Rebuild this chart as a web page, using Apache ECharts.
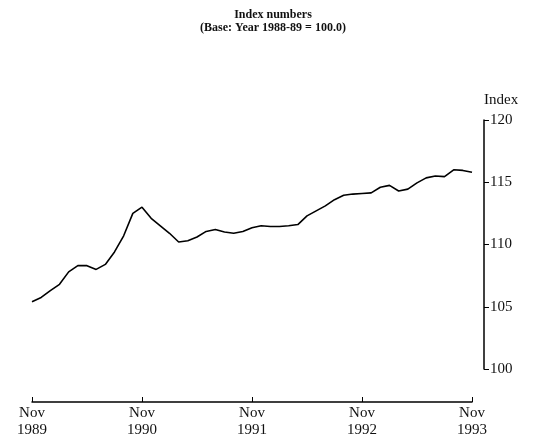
<!DOCTYPE html>
<html>
<head>
<meta charset="utf-8">
<script src="https://cdn.jsdelivr.net/npm/echarts@6/dist/echarts.min.js"></script>
<style>html,body{margin:0;padding:0;background:#fff}#c{width:535px;height:445px}</style>
</head>
<body>
<div id="c"></div>
<script>
// Monthly index, Nov 1989 .. Nov 1993
var months = ["Nov","Dec","Jan","Feb","Mar","Apr","May","Jun","Jul","Aug","Sep","Oct"];
var startYear = 1989;
var indexValues = [
  105.4, 105.75, 106.3, 106.8, 107.8, 108.3, 108.3, 108.0, 108.4, 109.4, 110.7, 112.5,
  113.0, 112.1, 111.5, 110.9, 110.2, 110.3, 110.6, 111.05, 111.2, 111.0, 110.9, 111.05,
  111.35, 111.5, 111.45, 111.45, 111.5, 111.6, 112.3, 112.7, 113.1, 113.6, 113.95, 114.05,
  114.1, 114.15, 114.6, 114.75, 114.3, 114.45, 114.95, 115.35, 115.5, 115.45, 116.0, 115.95,
  115.8
];
var yTicks = [100, 105, 110, 115, 120];

var categories = [];
for (var i = 0; i < indexValues.length; i++) {
  var mi = i % 12;
  var yr = startYear + Math.floor((i + 10) / 12);
  categories.push(months[mi] + "\n" + yr);
}

var serif = "Liberation Serif";
var chart = echarts.init(document.getElementById('c'), null, {renderer: 'canvas'});
chart.setOption({
  animation: false,
  backgroundColor: '#fff',
  title: {
    text: 'Index numbers',
    subtext: '(Base: Year 1988-89 = 100.0)',
    left: 268, textAlign: 'center',
    top: 4,
    itemGap: 1,
    textStyle: {fontFamily: serif, fontWeight: 'bold', fontSize: 12, color: '#111'},
    subtextStyle: {fontFamily: serif, fontWeight: 'bold', fontSize: 12, color: '#111'}
  },
  grid: {left: 32, right: 63, top: 120, bottom: 76, containLabel: false},
  xAxis: {
    type: 'category',
    data: categories,
    boundaryGap: false,
    offset: 33,
    axisLine: {lineStyle: {color: '#000', width: 1.5}},
    axisTick: {inside: true, length: 5, interval: 11, lineStyle: {color: '#000'}},
    axisLabel: {interval: 11, color: '#111', fontFamily: serif, fontSize: 15, lineHeight: 17, margin: 3},
    splitLine: {show: false}
  },
  yAxis: {
    type: 'value',
    min: yTicks[0], max: yTicks[yTicks.length - 1], interval: 5,
    position: 'right',
    offset: 12,
    name: 'Index',
    nameLocation: 'end',
    nameGap: 12,
    nameTextStyle: {fontFamily: serif, fontSize: 15, color: '#111', align: 'left', padding: [0, 0, 0, 0]},
    axisLine: {show: true, lineStyle: {color: '#000', width: 1.5}},
    axisTick: {show: true, length: 5, lineStyle: {color: '#000'}},
    axisLabel: {color: '#111', fontFamily: serif, fontSize: 15, margin: 6},
    splitLine: {show: false}
  },
  series: [{
    type: 'line',
    data: indexValues,
    showSymbol: false,
    symbol: 'none',
    lineStyle: {color: '#000', width: 1.6},
    smooth: false
  }]
});
</script>
</body>
</html>
